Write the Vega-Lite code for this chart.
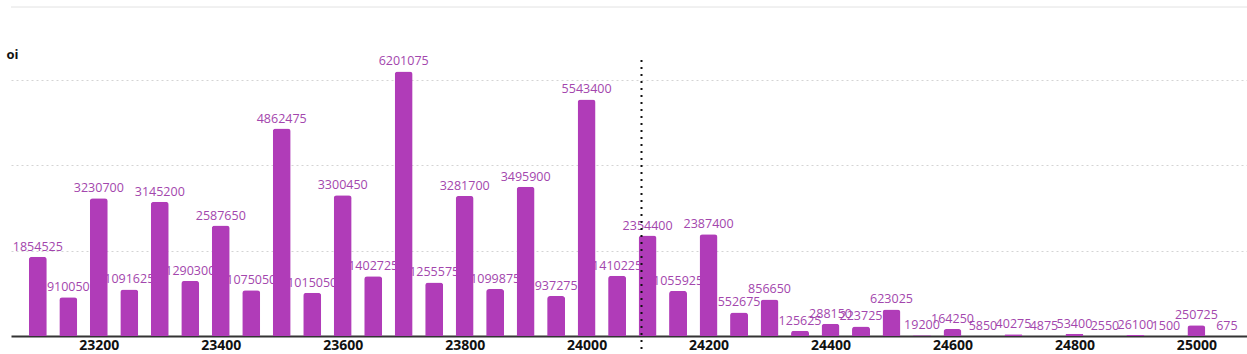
{
  "$schema": "https://vega.github.io/schema/vega-lite/v6.json",
  "autosize": {"type": "none"},
  "padding": {"left": 11, "top": 7, "right": 0, "bottom": 18},
  "width": 1236,
  "height": 329,
  "background": "white",
  "config": {"view": {"stroke": null}, "font": "Open Sans"},
  "datasets": {
    "oi": [
      {"strike": 23100, "oi": 1854525},
      {"strike": 23150, "oi": 910050},
      {"strike": 23200, "oi": 3230700},
      {"strike": 23250, "oi": 1091625},
      {"strike": 23300, "oi": 3145200},
      {"strike": 23350, "oi": 1290300},
      {"strike": 23400, "oi": 2587650},
      {"strike": 23450, "oi": 1075050},
      {"strike": 23500, "oi": 4862475},
      {"strike": 23550, "oi": 1015050},
      {"strike": 23600, "oi": 3300450},
      {"strike": 23650, "oi": 1402725},
      {"strike": 23700, "oi": 6201075},
      {"strike": 23750, "oi": 1255575},
      {"strike": 23800, "oi": 3281700},
      {"strike": 23850, "oi": 1099875},
      {"strike": 23900, "oi": 3495900},
      {"strike": 23950, "oi": 937275},
      {"strike": 24000, "oi": 5543400},
      {"strike": 24050, "oi": 1410225},
      {"strike": 24100, "oi": 2354400},
      {"strike": 24150, "oi": 1055925},
      {"strike": 24200, "oi": 2387400},
      {"strike": 24250, "oi": 552675},
      {"strike": 24300, "oi": 856650},
      {"strike": 24350, "oi": 125625},
      {"strike": 24400, "oi": 288150},
      {"strike": 24450, "oi": 223725},
      {"strike": 24500, "oi": 623025},
      {"strike": 24550, "oi": 19200},
      {"strike": 24600, "oi": 164250},
      {"strike": 24650, "oi": 5850},
      {"strike": 24700, "oi": 40275},
      {"strike": 24750, "oi": 4875},
      {"strike": 24800, "oi": 53400},
      {"strike": 24850, "oi": 2550},
      {"strike": 24900, "oi": 26100},
      {"strike": 24950, "oi": 1500},
      {"strike": 25000, "oi": 250725},
      {"strike": 25050, "oi": 675}
    ],
    "spot": [{"spot": 24090, "top": 6470000, "bottom": -330000}],
    "border": [{"level": 7710000}]
  },
  "encoding": {
    "x": {
      "field": "strike",
      "type": "quantitative",
      "scale": {"domain": [23056, 25083], "nice": false, "zero": false, "padding": 0},
      "axis": {
        "title": null,
        "values": [23200, 23400, 23600, 23800, 24000, 24200, 24400, 24600, 24800, 25000],
        "format": "d",
        "grid": false,
        "ticks": false,
        "domainColor": "#333333",
        "domainWidth": 2,
        "labelFont": "Open Sans",
        "labelFontWeight": "bold",
        "labelFontSize": 14,
        "labelColor": "#111111",
        "labelPadding": 2
      }
    },
    "y": {
      "field": "oi",
      "type": "quantitative",
      "scale": {"domain": [0, 7710000], "nice": false},
      "axis": {
        "title": "oi",
        "titleAngle": 0,
        "titleX": -5,
        "titleY": 47,
        "titleAlign": "left",
        "titleBaseline": "middle",
        "titleFont": "Open Sans",
        "titleFontSize": 13,
        "titleFontWeight": "bold",
        "titleColor": "#111111",
        "values": [2000000, 4000000, 6000000],
        "labels": false,
        "ticks": false,
        "domain": false,
        "grid": true,
        "gridColor": "#d4d4d4",
        "gridDash": [2, 3],
        "gridWidth": 1
      }
    }
  },
  "layer": [
    {
      "data": {"name": "border"},
      "mark": {"type": "rule", "color": "#e2e2e2", "strokeWidth": 1},
      "encoding": {"y": {"field": "level", "type": "quantitative"}, "x": null}
    },
    {
      "data": {"name": "oi"},
      "mark": {"type": "text", "baseline": "alphabetic", "dy": -6, "fontSize": 12.5, "color": "#a346ad", "font": "Open Sans"},
      "encoding": {"text": {"field": "oi", "type": "quantitative", "format": "d"}}
    },
    {
      "data": {"name": "oi"},
      "mark": {"type": "bar", "size": 18, "color": "#b03cb8", "cornerRadiusTopLeft": 3, "cornerRadiusTopRight": 3}
    },
    {
      "data": {"name": "spot"},
      "mark": {"type": "rule", "color": "#111111", "strokeWidth": 2, "strokeDash": [2, 5]},
      "encoding": {
        "x": {"field": "spot", "type": "quantitative"},
        "y": {"field": "top", "type": "quantitative"},
        "y2": {"field": "bottom"}
      }
    }
  ]
}
